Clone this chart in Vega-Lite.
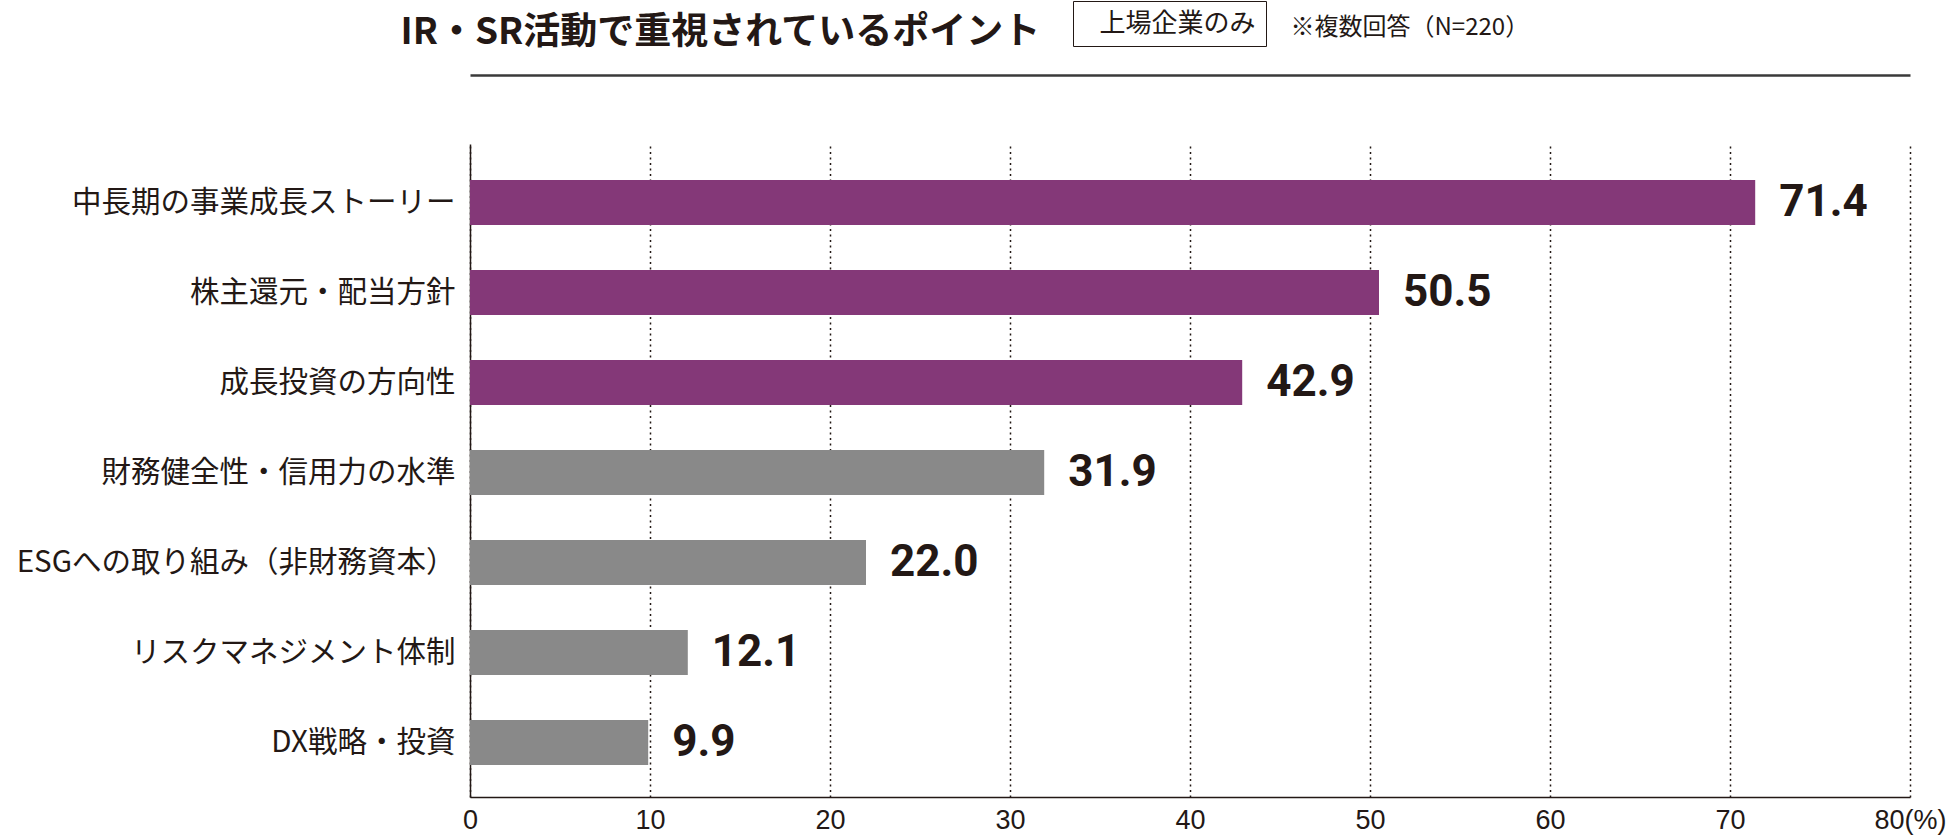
{
  "$schema": "https://vega.github.io/schema/vega-lite/v6.json",
  "width": 1440,
  "height": 653,
  "autosize": "none",
  "padding": {"left": 470, "top": 144, "right": 40, "bottom": 38},
  "background": "white",
  "config": {"view": {"stroke": null}, "font": "Noto Sans CJK JP"},
  "data": {
    "values": [
      {"item": "中長期の事業成長ストーリー", "value": 71.4, "group": "top"},
      {"item": "株主還元・配当方針", "value": 50.5, "group": "top"},
      {"item": "成長投資の方向性", "value": 42.9, "group": "top"},
      {"item": "財務健全性・信用力の水準", "value": 31.9, "group": "other"},
      {"item": "ESGへの取り組み（非財務資本）", "value": 22.0, "group": "other"},
      {"item": "リスクマネジメント体制", "value": 12.1, "group": "other"},
      {"item": "DX戦略・投資", "value": 9.9, "group": "other"}
    ]
  },
  "encoding": {
    "y": {
      "field": "item",
      "type": "nominal",
      "sort": null,
      "scale": {"paddingInner": 0.5, "paddingOuter": 0.378, "align": 0.53},
      "axis": {
        "title": "IR・SR活動で重視されているポイント",
        "titleAngle": 0,
        "titleX": -70,
        "titleY": -101,
        "titleAlign": "left",
        "titleBaseline": "alphabetic",
        "titleLimit": 0,
        "titleFont": "Noto Sans CJK JP",
        "titleFontSize": 37,
        "titleFontWeight": "bold",
        "titleColor": "#231815",
        "labelFont": "Noto Sans CJK JP",
        "labelFontSize": 29.5,
        "labelColor": "#231815",
        "labelPadding": 15,
        "labelLimit": 0,
        "ticks": false,
        "grid": false,
        "domain": true,
        "domainColor": "#231815",
        "domainWidth": 1.5
      }
    }
  },
  "resolve": {"axis": {"x": "independent"}},
  "layer": [
    {
      "mark": {"type": "bar"},
      "encoding": {
        "x": {
          "field": "value",
          "type": "quantitative",
          "scale": {"domain": [0, 80], "nice": false},
          "axis": {
            "orient": "bottom",
            "title": null,
            "values": [0, 10, 20, 30, 40, 50, 60, 70, 80],
            "labelExpr": "datum.value == 80 ? '80(%)' : datum.label",
            "labelFont": "Liberation Sans",
            "labelFontSize": 27,
            "labelColor": "#231815",
            "labelPadding": 10,
            "labelFlush": false,
            "labelOverlap": false,
            "ticks": false,
            "grid": true,
            "gridColor": "#231815",
            "gridDash": [2, 3.5],
            "gridWidth": 1.5,
            "domain": true,
            "domainColor": "#231815",
            "domainWidth": 1.5
          }
        },
        "color": {
          "field": "group",
          "type": "nominal",
          "scale": {"domain": ["top", "other"], "range": ["#843878", "#898989"]},
          "legend": {
            "orient": "none",
            "legendX": 603,
            "legendY": -143,
            "values": ["top"],
            "labelExpr": "'上場企業のみ'",
            "title": null,
            "symbolSize": 0,
            "symbolStrokeWidth": 0,
            "symbolOpacity": 0,
            "labelOffset": -9,
            "strokeColor": "#231815",
            "padding": 9.5,
            "labelFont": "Noto Sans CJK JP",
            "labelFontSize": 26,
            "labelColor": "#231815",
            "labelLimit": 0
          }
        }
      }
    },
    {
      "mark": {
        "type": "text",
        "align": "left",
        "baseline": "middle",
        "dx": 24,
        "font": "Roboto",
        "fontWeight": "bold",
        "fontSize": 44,
        "color": "#231815"
      },
      "encoding": {
        "x": {
          "field": "value",
          "type": "quantitative",
          "axis": {
            "orient": "top",
            "offset": 69,
            "labels": false,
            "ticks": false,
            "grid": false,
            "domain": true,
            "domainColor": "#3a3a3a",
            "domainWidth": 2.5,
            "title": "※複数回答（N=220）",
            "titleX": 820,
            "titleY": -48,
            "titleAlign": "left",
            "titleAnchor": "start",
            "titleBaseline": "middle",
            "titleLimit": 0,
            "titleFont": "Noto Sans CJK JP",
            "titleFontSize": 24,
            "titleFontWeight": "normal",
            "titleColor": "#231815"
          }
        },
        "text": {"field": "value", "type": "quantitative", "format": ".1f"}
      }
    }
  ]
}
